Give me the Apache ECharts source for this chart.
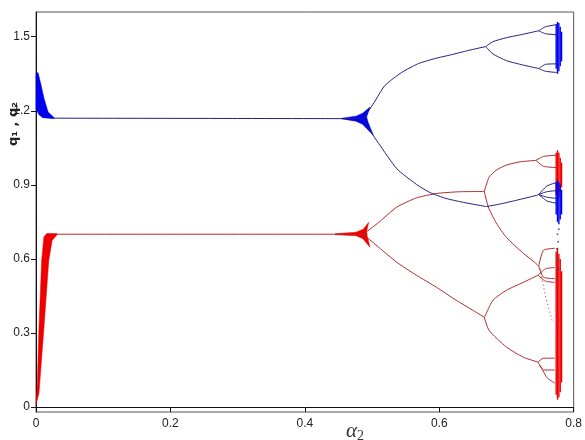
<!DOCTYPE html>
<html>
<head>
<meta charset="utf-8">
<script src="https://cdn.jsdelivr.net/npm/echarts@6/dist/echarts.min.js"></script>
<style>
  html, body { margin: 0; padding: 0; background: #fff; }
  #chart { width: 585px; height: 440px; }
</style>
</head>
<body>
<div id="chart"></div>
<script>
// axis ticks
const xTicks = [0, 0.2, 0.4, 0.6, 0.8]
const yTicks = [0, 0.3, 0.6, 0.9, 1.2, 1.5]

// q1 (blue) : transient band near alpha2 = 0
const q1BandTop = [[0, 1.35], [0.003, 1.355], [0.007, 1.31], [0.012, 1.25], [0.018, 1.195], [0.027, 1.172]]
const q1BandBottom = [[0, 1.21], [0.004, 1.185], [0.01, 1.172], [0.027, 1.168]]
// q1 blob at first bifurcation
const q1Blob = [[0.455, 1.170], [0.476, 1.178], [0.486, 1.19], [0.497, 1.215], [0.492, 1.175], [0.494, 1.155],
  [0.502, 1.10], [0.486, 1.145], [0.476, 1.158], [0.455, 1.167]]
// q1 branches
const q1Branches = [
  [[0.027, 1.17], [0.487, 1.168]],
  [[0.487, 1.168], [0.503, 1.233], [0.519, 1.302], [0.544, 1.355], [0.569, 1.391], [0.593, 1.411], [0.618, 1.427], [0.643, 1.444], [0.669, 1.46]],
  [[0.669, 1.46], [0.68, 1.48], [0.70, 1.496], [0.725, 1.51], [0.748, 1.524]],
  [[0.748, 1.524], [0.758, 1.54], [0.775, 1.549]],
  [[0.748, 1.524], [0.758, 1.512], [0.775, 1.508]],
  [[0.669, 1.46], [0.68, 1.43], [0.70, 1.403], [0.725, 1.385], [0.748, 1.371]],
  [[0.748, 1.371], [0.758, 1.388], [0.775, 1.39]],
  [[0.748, 1.371], [0.758, 1.36], [0.775, 1.355]],
  [[0.487, 1.168], [0.497, 1.12], [0.51, 1.067], [0.537, 0.965], [0.566, 0.902], [0.586, 0.869], [0.61, 0.845], [0.636, 0.829], [0.67, 0.812]],
  [[0.67, 0.812], [0.69, 0.822], [0.714, 0.837], [0.744, 0.857], [0.748, 0.861]],
  [[0.748, 0.861], [0.76, 0.895], [0.775, 0.91]],
  [[0.748, 0.861], [0.76, 0.872], [0.775, 0.877]],
  [[0.748, 0.861], [0.76, 0.85], [0.775, 0.845]],
  [[0.748, 0.861], [0.76, 0.835], [0.775, 0.825]]
]
// q1 chaotic columns [x, low, high]
const q1Chaos = [[0.774, 1.37, 1.55], [0.776, 1.35, 1.56], [0.778, 1.36, 1.555], [0.780, 1.38, 1.54], [0.782, 1.40, 1.52],
  [0.774, 0.78, 0.91], [0.776, 0.75, 0.92], [0.778, 0.74, 0.91], [0.780, 0.76, 0.90], [0.782, 0.78, 0.88]]
const q1Dots = [[0.776, 0.70], [0.777, 0.67], [0.775, 0.64], [0.776, 0.60], [0.777, 0.56], [0.775, 0.52], [0.778, 0.72]]

// q2 (red) : transient band near alpha2 = 0
const q2BandLeft = [[0, 0.01], [0.002, 0.1], [0.0044, 0.32], [0.0084, 0.594], [0.0118, 0.69], [0.016, 0.703], [0.031, 0.703]]
const q2BandRight = [[0.031, 0.697], [0.024, 0.675], [0.019, 0.594], [0.0118, 0.32], [0.0044, 0.055], [0.001, 0.02]]
const q2Blob = [[0.445, 0.702], [0.476, 0.708], [0.487, 0.72], [0.495, 0.748], [0.492, 0.712], [0.493, 0.69],
  [0.497, 0.647], [0.486, 0.683], [0.476, 0.694], [0.445, 0.698]]
const q2Branches = [
  [[0.031, 0.70], [0.487, 0.70]],
  [[0.487, 0.70], [0.51, 0.748], [0.537, 0.81], [0.566, 0.847], [0.596, 0.865], [0.63, 0.872], [0.667, 0.873]],
  [[0.667, 0.873], [0.674, 0.93], [0.685, 0.96], [0.70, 0.98], [0.72, 0.993], [0.744, 0.999]],
  [[0.744, 0.999], [0.755, 1.015], [0.775, 1.02]],
  [[0.744, 0.999], [0.755, 0.975], [0.775, 0.97]],
  [[0.667, 0.873], [0.673, 0.81], [0.685, 0.745], [0.70, 0.687], [0.725, 0.623], [0.742, 0.586], [0.748, 0.57]],
  [[0.748, 0.57], [0.755, 0.635], [0.772, 0.643]],
  [[0.748, 0.57], [0.755, 0.526], [0.772, 0.52]],
  [[0.487, 0.70], [0.51, 0.647], [0.537, 0.586], [0.566, 0.534], [0.596, 0.485], [0.625, 0.433], [0.667, 0.364]],
  [[0.667, 0.364], [0.67, 0.38], [0.68, 0.433], [0.70, 0.473], [0.725, 0.505], [0.747, 0.534]],
  [[0.747, 0.534], [0.758, 0.56], [0.772, 0.565]],
  [[0.747, 0.534], [0.758, 0.51], [0.772, 0.505]],
  [[0.667, 0.364], [0.674, 0.311], [0.70, 0.243], [0.725, 0.202], [0.747, 0.182]],
  [[0.747, 0.182], [0.755, 0.198], [0.772, 0.198]],
  [[0.747, 0.182], [0.755, 0.15], [0.772, 0.15]],
  [[0.75, 0.17], [0.76, 0.12], [0.772, 0.097]]
]
const q2Dotted = [[0.75, 0.56], [0.758, 0.45], [0.768, 0.35]]
const q2Chaos = [[0.774, 0.86, 1.03], [0.776, 0.84, 1.04], [0.778, 0.85, 1.03], [0.780, 0.87, 1.01], [0.782, 0.89, 0.99],
  [0.774, 0.05, 0.63], [0.776, 0.03, 0.645], [0.778, 0.04, 0.62], [0.780, 0.06, 0.60], [0.782, 0.10, 0.55]]

const BLUE_LINE = '#20207e'
const BLUE_FILL = '#0000f0'
const RED_LINE = '#b02a2a'
const RED_FILL = '#ee0000'

const chart = echarts.init(document.getElementById('chart'))

const polygonSeries = (pts, color) => ({
  type: 'custom',
  silent: true,
  data: pts,
  renderItem: (params, api) => {
    if (params.dataIndex !== 0) return
    return {
      type: 'polygon',
      shape: { points: pts.map(p => api.coord(p)) },
      style: { fill: color, stroke: color, lineWidth: 0.5 }
    }
  }
})

const columnSeries = (cols, color) => ({
  type: 'custom',
  silent: true,
  data: cols,
  encode: { x: 0, y: [1, 2] },
  renderItem: (params, api) => {
    const a = api.coord([api.value(0), api.value(1)])
    const b = api.coord([api.value(0), api.value(2)])
    return {
      type: 'line',
      shape: { x1: a[0], y1: a[1], x2: b[0], y2: b[1] },
      style: { stroke: color, lineWidth: 1.4 }
    }
  }
})

const lineSeries = (pts, color, extra) => Object.assign({
  type: 'line',
  data: pts,
  showSymbol: false,
  silent: true,
  smooth: 0.2,
  lineStyle: { color: color, width: 1 }
}, extra || {})

const series = []
q2Branches.forEach(b => series.push(lineSeries(b, RED_LINE)))
series.push(lineSeries(q2Dotted, RED_LINE, { smooth: false, lineStyle: { color: RED_LINE, width: 1, type: [1, 3] } }))
series.push(polygonSeries(q2BandLeft.concat(q2BandRight), RED_FILL))
series.push(polygonSeries(q2Blob, RED_FILL))
series.push(columnSeries(q2Chaos, RED_FILL))
q1Branches.forEach(b => series.push(lineSeries(b, BLUE_LINE)))
series.push(polygonSeries(q1BandTop.concat(q1BandBottom.slice().reverse()), BLUE_FILL))
series.push(polygonSeries(q1Blob, BLUE_FILL))
series.push(columnSeries(q1Chaos, BLUE_FILL))
series.push({
  type: 'scatter',
  data: q1Dots,
  symbolSize: 2,
  silent: true,
  itemStyle: { color: '#44446a' }
})

chart.setOption({
  animation: false,
  backgroundColor: '#fff',
  grid: { left: 36, right: 7, top: 12, bottom: 28, show: true, borderColor: '#555', borderWidth: 1 },
  xAxis: {
    type: 'value',
    min: 0,
    max: 0.8,
    interval: 0.2,
    splitLine: { show: false },
    axisLine: { lineStyle: { color: '#111' } },
    axisTick: { length: 5, lineStyle: { color: '#111' } },
    axisLabel: {
      color: '#222',
      fontSize: 12,
      fontFamily: 'Liberation Sans',
      margin: 6,
      formatter: v => xTicks.indexOf(+v.toFixed(2)) >= 0 ? String(+v.toFixed(1)) : ''
    }
  },
  yAxis: {
    type: 'value',
    min: -0.02,
    max: 1.6,
    splitLine: { show: false },
    axisLine: { lineStyle: { color: '#111' } },
    axisTick: { length: 5, lineStyle: { color: '#111' }, customValues: yTicks },
    axisLabel: {
      color: '#222',
      fontSize: 12,
      fontFamily: 'Liberation Sans',
      margin: 6,
      customValues: yTicks,
      formatter: v => String(+v.toFixed(1))
    }
  },
  graphic: [
    {
      type: 'text',
      x: 14,
      y: 124,
      rotation: Math.PI / 2,
      style: {
        text: 'q\u2081 , q\u2082',
        fontSize: 13,
        fontWeight: 'bold',
        fontFamily: 'DejaVu Sans',
        fill: '#222',
        align: 'center',
        verticalAlign: 'middle'
      }
    },
    {
      type: 'text',
      x: 346,
      y: 420,
      style: {
        rich: {
          a: { fontSize: 21, fontStyle: 'italic', fontFamily: 'Liberation Serif', fill: '#333', height: 22 },
          s: { fontSize: 14, fontFamily: 'Liberation Serif', fill: '#333', padding: [9, 0, 0, 0] }
        },
        text: '{a|\u03b1}{s|2}'
      }
    }
  ],
  series: series
})
</script>
</body>
</html>
